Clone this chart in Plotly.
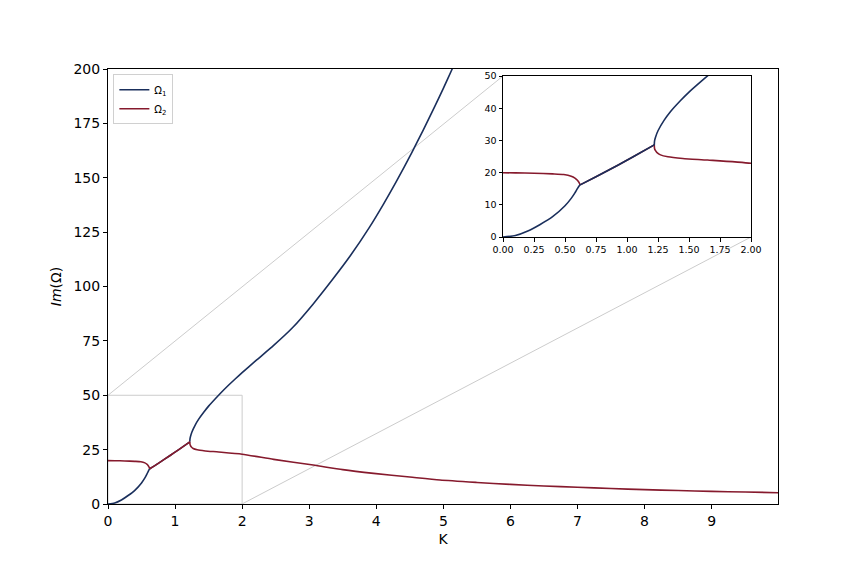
import plotly.graph_objects as go

# ---- data ----
# Omega_1 : lower branch, merged segment, upper branch (None separates the pieces)
k1 = [0, 0.1, 0.2, 0.3, 0.4, 0.5, 0.55, 0.58, 0.6, 0.615, 0.622, None,
      0.622, 0.75, 0.926, 1.05, 1.22, None,
      1.22, 1.222, 1.23, 1.25, 1.3, 1.35, 1.43, 1.5, 1.6, 1.67, 1.8, 1.9, 2.0, 2.2,
      2.47, 2.75, 3.06, 3.35, 3.61, 3.9, 4.11, 4.3, 4.53, 4.7, 4.86, 5.0, 5.12, 5.15]
w1 = [0, 0.45, 1.85, 3.9, 6.3, 9.7, 12.0, 13.7, 15.0, 15.9, 16.2, None,
      16.2, 18.7, 22.3, 24.9, 28.6, None,
      28.6, 29.8, 31.0, 33.0, 36.3, 38.9, 42.3, 45.0, 48.4, 50.7, 54.7, 57.6, 60.4, 65.8,
      72.9, 81.0, 92.0, 103.3, 114.0, 127.3, 138.0, 148.3, 161.6, 171.9, 182.0, 191.1, 199.2, 201.3]

# Omega_2 : upper branch, merged segment, lower branch
k2 = [0, 0.1, 0.25, 0.4, 0.49, 0.55, 0.58, 0.6, 0.615, 0.622, None,
      0.622, 0.75, 0.926, 1.05, 1.22, None,
      1.22, 1.222, 1.23, 1.24, 1.27, 1.33, 1.45, 1.65, 2.0, 2.47, 3.06, 3.5, 3.96,
      4.5, 4.95, 5.5, 6.0, 6.5, 7.0, 7.5, 8.0, 8.5, 9.0, 9.5, 10.0]
w2 = [19.95, 19.9, 19.8, 19.6, 19.4, 18.9, 18.3, 17.6, 16.8, 16.2, None,
      16.2, 18.7, 22.3, 24.9, 28.6, None,
      28.6, 27.5, 26.8, 26.3, 25.5, 24.9, 24.4, 23.9, 22.9, 20.5, 17.9, 15.8, 14.1,
      12.4, 11.0, 9.9, 9.0, 8.3, 7.7, 7.1, 6.6, 6.2, 5.8, 5.5, 5.2]

x_main_ticks = [0, 1, 2, 3, 4, 5, 6, 7, 8, 9]
y_main_ticks = [0, 25, 50, 75, 100, 125, 150, 175, 200]
zoom_box = dict(x0=0, x1=2, y0=0, y1=50)

C1 = "#1a2f5c"
C2 = "#861a2d"
GRAY = "#cccccc"

fig = go.Figure()

line_shape = dict(shape="spline", smoothing=0.6, width=1.6)

# main axes
fig.add_trace(go.Scatter(x=k1, y=w1, mode="lines", name="Ω<sub>1</sub>",
                         line=dict(color=C1, **line_shape), connectgaps=False,
                         xaxis="x", yaxis="y"))
fig.add_trace(go.Scatter(x=k2, y=w2, mode="lines", name="Ω<sub>2</sub>",
                         line=dict(color=C2, **line_shape), connectgaps=False,
                         xaxis="x", yaxis="y"))
# inset axes (Omega_1 drawn on top here)
fig.add_trace(go.Scatter(x=k2, y=w2, mode="lines", showlegend=False,
                         line=dict(color=C2, **line_shape), connectgaps=False,
                         xaxis="x2", yaxis="y2"))
fig.add_trace(go.Scatter(x=k1, y=w1, mode="lines", showlegend=False,
                         line=dict(color=C1, **line_shape), connectgaps=False,
                         xaxis="x2", yaxis="y2"))

# page offset of 8px (body margin) compensated
OFF = 8
W, H = 864, 576
PL, PR, PT, PB = 108, 778, 69, 504   # target plot area in screen pixels
ML, MT = PL - OFF, PT - OFF
pw, ph = PR - PL, PB - PT
MR, MB = W - ML - pw, H - MT - ph

def px(xp):
    return (xp - PL) / pw

def py(yp):
    return (PB - yp) / ph

ix0, ix1 = px(503), px(751)
iy0, iy1 = py(237), py(76)

axis_common = dict(showline=True, linecolor="black", linewidth=1, mirror=True,
                   ticks="outside", tickcolor="black", showgrid=False,
                   zeroline=False)

fig.update_layout(
    width=W, height=H,
    margin=dict(l=ML, r=MR, t=MT, b=MB, autoexpand=False),
    paper_bgcolor="white", plot_bgcolor="white",
    font=dict(family="DejaVu Sans", color="black"),
    xaxis=dict(domain=[0, 1], range=[0, 9.99], tickvals=x_main_ticks, ticklen=4,
               title=dict(text="K", font=dict(size=14), standoff=6),
               tickfont=dict(size=14), **axis_common),
    yaxis=dict(domain=[0, 1], range=[0, 200], tickvals=y_main_ticks, ticklen=4,
               title=dict(text="<i>Im</i>(Ω)", font=dict(size=14), standoff=8),
               tickfont=dict(size=14), **axis_common),
    xaxis2=dict(domain=[ix0, ix1], range=[0, 2], dtick=0.25, tickformat=".2f",
                anchor="y2", tickfont=dict(size=9.5), ticklen=3.5, **axis_common),
    yaxis2=dict(domain=[iy0, iy1], range=[0, 50], dtick=10,
                anchor="x2", tickfont=dict(size=9.5), ticklen=3.5, **axis_common),
    legend=dict(x=0.008, y=0.988, xanchor="left", yanchor="top",
                bgcolor="rgba(255,255,255,0.8)", bordercolor="#d0d0d0", borderwidth=1,
                font=dict(size=10), tracegroupgap=2, itemwidth=30),
    showlegend=True,
)

# zoom indicator rectangle and connectors
fig.add_shape(type="rect", xref="x", yref="y", layer="below",
              x0=zoom_box["x0"], x1=zoom_box["x1"], y0=zoom_box["y0"], y1=zoom_box["y1"],
              line=dict(color=GRAY, width=1))
fig.add_shape(type="line", xref="paper", yref="paper", layer="below",
              x0=zoom_box["x0"] / 10, y0=zoom_box["y1"] / 200, x1=ix0, y1=iy1,
              line=dict(color=GRAY, width=1))
fig.add_shape(type="line", xref="paper", yref="paper", layer="below",
              x0=zoom_box["x1"] / 10, y0=zoom_box["y0"] / 200, x1=ix1, y1=iy0,
              line=dict(color=GRAY, width=1))
# white background for the inset (covers the main plot beneath)
fig.add_shape(type="rect", xref="paper", yref="paper", layer="below",
              x0=ix0, x1=ix1, y0=iy0, y1=iy1, fillcolor="white",
              line=dict(width=0))

fig.write_html("out.html")
